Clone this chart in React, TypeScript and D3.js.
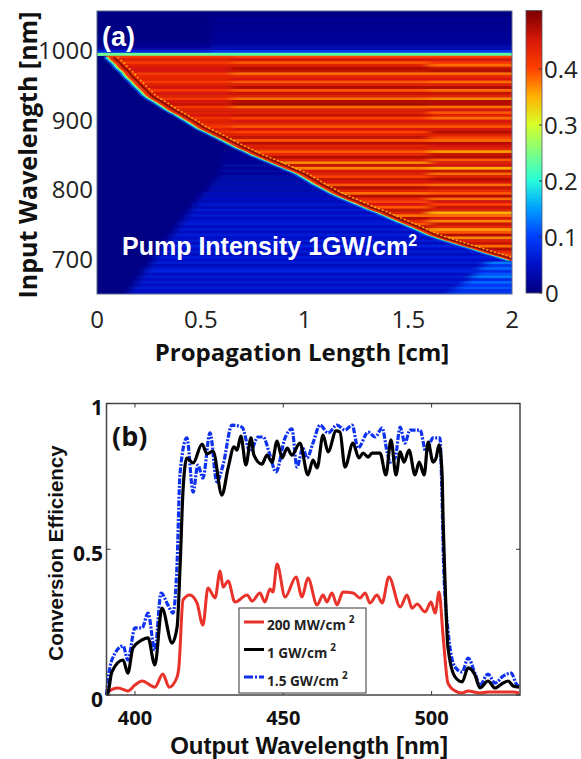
import React from "react";
import * as d3 from "d3";

// panel (a): rows of the map, 990 nm down to 650 nm in 4 nm steps
const rowWavelengths = d3.range(0, 86).map((i) => 990 - 4 * i);
// where conversion starts along the crystal, one value per row from 990 nm down
const rowStart = [
  0.05, 0.06, 0.08, 0.09, 0.1, 0.12, 0.13, 0.14, 0.155, 0.17,
  0.18, 0.195, 0.21, 0.22, 0.235, 0.255, 0.28, 0.3, 0.32, 0.34,
  0.365, 0.39, 0.41, 0.435, 0.455, 0.475, 0.5, 0.53, 0.555, 0.585,
  0.61, 0.635, 0.66, 0.69, 0.72, 0.745, 0.78, 0.81, 0.845, 0.875,
  0.905, 0.94, 0.97, 0.99, 1.015, 1.035, 1.06, 1.085, 1.11, 1.135,
  1.165, 1.195, 1.23, 1.26, 1.29, 1.325, 1.36, 1.39, 1.42, 1.45,
  1.485, 1.515, 1.545, 1.575, 1.605, 1.645, 1.69, 1.73, 1.775, 1.82,
  1.86, 1.905, 1.95, 1.99,
];
const nearLevels = [
  0.41, 0.44, 0.41, 0.44, 0.45, 0.45, 0.41, 0.43, 0.44, 0.41,
  0.44, 0.45, 0.41, 0.45, 0.44, 0.41, 0.45, 0.46, 0.41, 0.44,
  0.44, 0.45, 0.42, 0.44, 0.43, 0.41, 0.44, 0.42, 0.44, 0.45,
  0.41, 0.45, 0.44, 0.44, 0.41, 0.43, 0.45, 0.44, 0.41, 0.45,
  0.41, 0.44, 0.44, 0.42, 0.45, 0.44, 0.41, 0.45, 0.44, 0.41,
  0.45, 0.43, 0.42, 0.44, 0.41, 0.45, 0.44, 0.41, 0.45, 0.43,
  0.41, 0.45, 0.44, 0.41, 0.44, 0.45, 0.41, 0.44, 0.41, 0.44,
  0.43, 0.45, 0.42, 0.44,
];
const midLevels = [
  0.4, 0.45, 0.39, 0.44, 0.47, 0.46, 0.38, 0.43, 0.45, 0.39,
  0.44, 0.47, 0.39, 0.46, 0.44, 0.38, 0.47, 0.48, 0.38, 0.44,
  0.44, 0.46, 0.4, 0.45, 0.43, 0.39, 0.45, 0.4, 0.44, 0.46,
  0.39, 0.47, 0.44, 0.44, 0.39, 0.43, 0.47, 0.44, 0.37, 0.46,
  0.37, 0.45, 0.44, 0.4, 0.46, 0.45, 0.39, 0.47, 0.44, 0.38,
  0.47, 0.43, 0.4, 0.45, 0.39, 0.46, 0.44, 0.38, 0.47, 0.43,
  0.39, 0.46, 0.44, 0.37, 0.44, 0.47, 0.39, 0.45, 0.38, 0.44,
  0.43, 0.46, 0.4, 0.44,
];
const farLevels = [
  0.4, 0.45, 0.41, 0.38, 0.46, 0.47, 0.38, 0.43, 0.45, 0.38,
  0.44, 0.47, 0.38, 0.46, 0.44, 0.37, 0.47, 0.47, 0.38, 0.45,
  0.39, 0.44, 0.38, 0.45, 0.43, 0.39, 0.45, 0.47, 0.44, 0.4,
  0.38, 0.47, 0.45, 0.43, 0.36, 0.46, 0.47, 0.39, 0.44, 0.45,
  0.35, 0.46, 0.38, 0.44, 0.47, 0.45, 0.38, 0.46, 0.43, 0.39,
  0.47, 0.38, 0.45, 0.4, 0.46, 0.44, 0.35, 0.38, 0.45, 0.37,
  0.46, 0.43, 0.36, 0.39, 0.47, 0.37, 0.44, 0.46, 0.38, 0.47,
  0.43, 0.4, 0.44, 0.38,
];
// faint unconverted light under the curve, rows 34 to 85
const lowStart = [
  0.61, 0.61, 0.61, 0.6, 0.6, 0.6, 0.59, 0.59, 0.59, 0.58,
  0.57, 0.56, 0.55, 0.54, 0.53, 0.51, 0.5, 0.49, 0.48, 0.47,
  0.46, 0.45, 0.44, 0.43, 0.42, 0.41, 0.4, 0.39, 0.38, 0.37,
  0.36, 0.35, 0.34, 0.33, 0.32, 0.31, 0.3, 0.29, 0.28, 0.27,
  0.26, 0.25, 0.24, 0.23, 0.22, 0.21, 0.2, 0.19, 0.18, 0.17,
  0.16, 0.15,
];
const lowLevels = [
  0.01, 0.015, 0.01, 0.02, 0.015, 0.025, 0.015, 0.025, 0.02, 0.03,
  0.025, 0.035, 0.03, 0.04, 0.03, 0.045, 0.035, 0.05, 0.04, 0.055,
  0.04, 0.06, 0.045, 0.06, 0.045, 0.055, 0.065, 0.045, 0.06, 0.045,
  0.065, 0.05, 0.06, 0.045, 0.07, 0.05, 0.06, 0.045, 0.065, 0.05,
  0.06, 0.045, 0.06, 0.07, 0.045, 0.06, 0.05, 0.06, 0.045, 0.06,
  0.05, 0.055,
];
// brighter wedge in the bottom right corner, rows 74 to 85
const wedgeStart = [1.88, 1.87, 1.85, 1.84, 1.83, 1.81, 1.8, 1.78, 1.76, 1.74, 1.72, 1.7];
const wedgeLevels = [0.13, 0.09, 0.12, 0.08, 0.11, 0.13, 0.08, 0.12, 0.09, 0.11, 0.08, 0.1];
// rows above the 990 nm line
const topWavelengths = d3.range(0, 16).map((i) => 1054 - 4 * i);
const topLeft = [0.004, 0.004, 0.004, 0.004, 0.004, 0.004, 0.004, 0.004, 0.004, 0.004, 0.005, 0.008, 0.012, 0.025, 0.07, 0.24];
const topRight = [0.005, 0.005, 0.01, 0.015, 0.01, 0.015, 0.015, 0.01, 0.02, 0.015, 0.02, 0.02, 0.025, 0.04, 0.09, 0.23];

const jetStops = ["#00007f", "#0010c8", "#0040ff", "#00a0ff", "#28ffd8", "#80ff80", "#d8ff28", "#ffb000", "#ff4000", "#d81808", "#7f0000"];
const colorbarTicks = [0, 0.1, 0.2, 0.3, 0.4];
const lengthTicks = [0, 0.5, 1, 1.5, 2];
const inputTicks = [700, 800, 900, 1000];

// panel (b)
const blackX = [390.4, 390.9, 392.2, 396, 397.6, 399.3, 402.4, 404.4, 406.7, 409.1, 412.5, 414.2, 415.2, 416.2, 417.5, 419.6, 422.6, 424.3, 426.3, 429.3, 431.4, 433.4, 434.4, 435.7, 437.4, 439.1, 440.1, 442.8, 444.5, 446.2, 447.9, 449.6, 451.3, 452.9, 455.6, 458.3, 460, 461.4, 463.4, 465.1, 467.8, 469.1, 470.8, 473.5, 475.5, 476.9, 478.6, 479.9, 482.6, 484.6, 486.3, 488, 489.4, 490.7, 492.4, 494.4, 495.8, 497.5, 498.8, 500.5, 501.5, 502.5, 503.5, 503.9, 504.5, 505.5, 507.9, 510.3, 512.3, 514.6, 516.3, 519, 521.4, 524.1, 525.8, 527.5, 529.5];
const blackY = [0, 0.007, 0.079, 0.12, 0.075, 0.161, 0.189, 0.196, 0.103, 0.298, 0.178, 0.233, 0.439, 0.703, 0.813, 0.796, 0.861, 0.827, 0.837, 0.686, 0.779, 0.851, 0.84, 0.888, 0.789, 0.882, 0.823, 0.792, 0.823, 0.799, 0.871, 0.813, 0.847, 0.823, 0.864, 0.755, 0.806, 0.779, 0.892, 0.834, 0.906, 0.902, 0.782, 0.864, 0.813, 0.83, 0.816, 0.83, 0.83, 0.755, 0.875, 0.755, 0.834, 0.799, 0.84, 0.755, 0.799, 0.755, 0.868, 0.799, 0.813, 0.858, 0.765, 0.59, 0.395, 0.165, 0.062, 0.045, 0.093, 0.069, 0.024, 0.048, 0.024, 0.041, 0.048, 0.031, 0.027];
const blueX = [390.4, 390.9, 392.2, 396, 397.6, 400, 402.4, 404.4, 406.7, 408.8, 411.1, 412.8, 414.2, 415.2, 417.5, 419.6, 421.2, 422.9, 425.3, 427.6, 429.7, 432.7, 436.1, 438.8, 441.5, 443.2, 445.5, 447.5, 450.6, 452.9, 454.6, 456.6, 458, 460, 462.4, 465.1, 468.1, 470.8, 473.2, 475.2, 478.6, 481, 483.3, 485, 486, 487.7, 489.4, 491, 492.7, 496.1, 498.1, 500.5, 502.8, 503.5, 504, 505.5, 507.9, 510.3, 512.3, 514.6, 516.3, 519, 521.4, 524.1, 526.8, 528.8, 529.5];
const blueY = [0, 0.051, 0.12, 0.168, 0.12, 0.23, 0.23, 0.281, 0.154, 0.35, 0.309, 0.281, 0.453, 0.762, 0.882, 0.696, 0.789, 0.744, 0.899, 0.731, 0.789, 0.926, 0.919, 0.834, 0.885, 0.885, 0.823, 0.765, 0.882, 0.913, 0.782, 0.847, 0.813, 0.864, 0.926, 0.899, 0.926, 0.909, 0.926, 0.847, 0.902, 0.885, 0.916, 0.834, 0.799, 0.813, 0.919, 0.864, 0.909, 0.909, 0.834, 0.882, 0.882, 0.686, 0.463, 0.223, 0.096, 0.079, 0.127, 0.075, 0.034, 0.072, 0.041, 0.065, 0.075, 0.034, 0.031];
const redX = [390.4, 390.9, 394.3, 397.6, 400, 402.4, 406.7, 409.4, 411.5, 414.2, 414.8, 416.2, 418.5, 420.9, 422.9, 424.6, 427, 428.7, 429.7, 431.4, 433.7, 437.8, 439.5, 442.1, 443.8, 445.5, 446.5, 447.9, 450.6, 454.3, 456.3, 458.3, 461.4, 463.4, 464.7, 466.4, 468.1, 470.1, 473.5, 475.9, 477.6, 479.2, 481.6, 483.3, 485.6, 489.4, 491.7, 493.4, 495.1, 497.8, 499.8, 501.2, 502.5, 503.9, 505.5, 507.9, 510.3, 512.3, 516.3, 519, 524.1, 527.5, 529.5];
const redY = [0, 0.01, 0.024, 0.014, 0.034, 0.048, 0.027, 0.072, 0.027, 0.062, 0.096, 0.326, 0.343, 0.316, 0.24, 0.367, 0.333, 0.425, 0.37, 0.391, 0.319, 0.343, 0.322, 0.35, 0.319, 0.364, 0.353, 0.449, 0.336, 0.405, 0.336, 0.401, 0.309, 0.343, 0.319, 0.35, 0.309, 0.353, 0.35, 0.333, 0.35, 0.316, 0.343, 0.316, 0.405, 0.302, 0.343, 0.298, 0.312, 0.285, 0.319, 0.281, 0.353, 0.199, 0.041, 0.014, 0.007, 0.014, 0.007, 0.01, 0.01, 0.01, 0.007];
const wavelengthTicks = [400, 450, 500];
const efficiencyTicks = [0, 0.5, 1];
const legendItems = [
  { label: "200 MW/cm", color: "#e8302a", width: 3, dash: "none" },
  { label: "1 GW/cm", color: "#000000", width: 3, dash: "none" },
  { label: "1.5 GW/cm", color: "#1030f0", width: 3, dash: "9 2 2 2" },
];

const width = 581;
const height = 759;
const a = { left: 97, right: 512, top: 11, bottom: 294 };
const b = { left: 106.5, right: 520, top: 403.5, bottom: 695 };
const tickFont = "'Open Sans', sans-serif";
const arial = "'Liberation Sans', Arial, sans-serif";

const App = () => {
  const z = d3.scaleLinear().domain([0, 2]).range([a.left, a.right]);
  const wl = d3.scaleLinear().domain([650, 1000]).range([293.5, 50]);
  const color = d3
    .scaleLinear<string>()
    .domain(jetStops.map((_, i) => (i / (jetStops.length - 1)) * 0.5))
    .range(jetStops)
    .clamp(true);
  const bar = d3.scaleLinear().domain([0, 0.5]).range([293, 13]);

  const x = d3.scaleLinear().domain([390.4, 529.8]).range([b.left, b.right]);
  const y = d3.scaleLinear().domain([0, 1]).range([b.bottom, b.top]);
  const curve = d3
    .line<[number, number]>()
    .x((d) => x(d[0]))
    .y((d) => y(d[1]))
    .curve(d3.curveMonotoneX);
  const pairs = (xs: number[], ys: number[]) => xs.map((v, i) => [v, ys[i]] as [number, number]);

  // edge of the converted band, shifted along the length axis
  const edge = (shift: number) =>
    d3
      .line<number>()
      .x((d) => z(d + shift))
      .y((_, i) => wl(rowWavelengths[i]))
      .curve(d3.curveBasis)(rowStart) ?? "";

  const bandClip = `${edge(0)}L${z(2.1)},${wl(698)}L${z(2.1)},${wl(992)}L${z(0.03)},${wl(992)}Z`;

  const rowRect = (key: string, w: number, from: number, to: number, level: number) => (
    <rect
      key={key}
      x={z(from)}
      width={Math.max(0, z(to) - z(from))}
      y={wl(w + 2)}
      height={wl(w - 2) - wl(w + 2) + 0.4}
      fill={color(level)}
    />
  );

  const mapBox = { x: a.left - 30, y: a.top - 10, width: a.right - a.left + 60, height: a.bottom - a.top + 20 };

  return (
    <svg width={width} height={height} style={{ position: "absolute", left: 0, top: 0, background: "#fff" }}>
      <defs>
        <filter id="soft" filterUnits="userSpaceOnUse" {...mapBox}>
          <feGaussianBlur stdDeviation="0.5" />
        </filter>
        <filter id="rowBlur" filterUnits="userSpaceOnUse" {...mapBox}>
          <feGaussianBlur stdDeviation="5 0.4" />
        </filter>
        <filter id="softLine" x="-2%" y="-2%" width="104%" height="104%">
          <feGaussianBlur stdDeviation="0.45" />
        </filter>
        <clipPath id="mapClip">
          <rect x={a.left} y={a.top} width={a.right - a.left} height={a.bottom - a.top} />
        </clipPath>
        <clipPath id="bandClip">
          <path d={bandClip} />
        </clipPath>
      </defs>

      {/* panel (a) */}
      <g clipPath="url(#mapClip)">
        <rect x={a.left} y={a.top} width={a.right - a.left} height={a.bottom - a.top} fill={color(0.003)} />
        <g filter="url(#rowBlur)">
          {topWavelengths.map((w, i) => (
            <g key={w}>
              {rowRect(`tl${w}`, w, -0.2, 0.55, topLeft[i])}
              {rowRect(`tr${w}`, w, 0.55, 2.2, topRight[i])}
            </g>
          ))}
          {rowWavelengths.map((w, i) => {
            if (i < 34) return null;
            const end = i < 74 ? 2.2 : wedgeStart[i - 74];
            return (
              <g key={w}>
                {rowRect(`lo${w}`, w, lowStart[i - 34], end, lowLevels[i - 34])}
                {i >= 74 && rowRect(`we${w}`, w, wedgeStart[i - 74], 2.2, wedgeLevels[i - 74])}
              </g>
            );
          })}
        </g>
        <g clipPath="url(#bandClip)">
          <g filter="url(#rowBlur)">
            {rowStart.map((start, i) => {
              const w = rowWavelengths[i];
              return (
                <g key={w}>
                  {rowRect(`n${w}`, w, start - 0.2, Math.max(start, 0.65), nearLevels[i])}
                  {start < 1.6 && rowRect(`m${w}`, w, Math.max(start, 0.65), 1.6, midLevels[i])}
                  {rowRect(`f${w}`, w, Math.max(start, 1.6), 2.2, farLevels[i])}
                </g>
              );
            })}
          </g>
        </g>
        <g filter="url(#soft)">
          <path d={edge(-0.014)} fill="none" stroke="#0070ff" strokeWidth={3} opacity={0.6} />
          <path d={edge(-0.006)} fill="none" stroke="#30f0d0" strokeWidth={1.7} />
          <path d={edge(0.003)} fill="none" stroke="#f0e020" strokeWidth={1.4} />
          <path d={edge(0.014)} fill="none" stroke="#e83010" strokeWidth={2.6} />
          <path d={edge(0.03)} fill="none" stroke="#8a0a04" strokeWidth={1.8} />
          <path d={edge(0.05)} fill="none" stroke="#ffb018" strokeWidth={1.4} strokeDasharray="2 2" />
        </g>
      </g>
      <rect x={a.left} y={a.top} width={a.right - a.left} height={a.bottom - a.top} fill="none" stroke="#5a6a8a" strokeWidth={1} />
      <text x={102} y={46} fill="#fff" fontFamily={arial} fontWeight="bold" fontSize={27}>(a)</text>
      <text x={122} y={255} fill="#fff" fontFamily={arial} fontWeight="bold" fontSize={25}>
        Pump Intensity 1GW/cm<tspan dy={-9} fontSize={16}>2</tspan>
      </text>
      {inputTicks.map((t) => (
        <text key={t} x={93} y={wl(t) + 9} textAnchor="end" fontFamily={tickFont} fontSize={24} fill="#222">{t}</text>
      ))}
      {lengthTicks.map((t) => (
        <text key={t} x={z(t)} y={328} textAnchor="middle" fontFamily={tickFont} fontSize={24} fill="#222">{t}</text>
      ))}
      <text x={302} y={361} textAnchor="middle" fontFamily={tickFont} fontWeight="bold" fontSize={24} fill="#111">Propagation Length [cm]</text>
      <text transform="translate(37,155) rotate(-90)" textAnchor="middle" fontFamily={tickFont} fontWeight="bold" fontSize={25} fill="#111">Input Wavelength [nm]</text>

      {/* colorbar */}
      {d3.range(0, 141).map((i) => {
        const v = (i / 140) * 0.5;
        return <rect key={i} x={526} width={16} y={bar(v) - 2.5} height={2.6} fill={color(v)} />;
      })}
      <rect x={526} y={10.5} width={16} height={282.5} fill="none" stroke="#556" strokeWidth={0.8} />
      {colorbarTicks.map((t) => (
        <g key={t}>
          <line x1={539} x2={542} y1={bar(t)} y2={bar(t)} stroke="#333" />
          <text x={t === 0 ? 545 : 544} y={bar(t) + 9} fontFamily={tickFont} fontSize={24} fill="#222">{t}</text>
        </g>
      ))}

      {/* panel (b) */}
      <g filter="url(#softLine)" fill="none" strokeLinejoin="round">
        <path d={curve(pairs(redX, redY)) ?? ""} stroke="#e8302a" strokeWidth={3} />
        <path d={curve(pairs(blueX, blueY)) ?? ""} stroke="#1030f0" strokeWidth={3.2} strokeDasharray="6 1.5 2 1.5" />
        <path d={curve(pairs(blackX, blackY)) ?? ""} stroke="#000" strokeWidth={3.2} />
      </g>
      <rect x={b.left} y={b.top} width={b.right - b.left} height={b.bottom - b.top} fill="none" stroke="#444" strokeWidth={1.5} />
      {wavelengthTicks.map((t) => (
        <g key={t}>
          <line x1={x(t)} x2={x(t)} y1={b.bottom} y2={b.bottom - 4} stroke="#333" />
          <line x1={x(t)} x2={x(t)} y1={b.top} y2={b.top + 4} stroke="#333" />
          <text x={x(t)} y={725} textAnchor="middle" fontFamily={tickFont} fontWeight="bold" fontSize={20} fill="#111">{t}</text>
        </g>
      ))}
      {efficiencyTicks.map((t) => (
        <g key={t}>
          <line x1={b.left} x2={b.left + 4} y1={y(t)} y2={y(t)} stroke="#333" />
          <line x1={b.right} x2={b.right - 4} y1={y(t)} y2={y(t)} stroke="#333" />
          <text x={103} y={y(t) + 11.5} textAnchor="end" fontFamily={tickFont} fontWeight="bold" fontSize={21} fill="#111">{t}</text>
        </g>
      ))}
      <text x={112} y={446} fontFamily={tickFont} fontWeight="bold" fontSize={27} fill="#111">(b)</text>
      <text x={309} y={754} textAnchor="middle" fontFamily={arial} fontWeight="bold" fontSize={24} fill="#111">Output Wavelength [nm]</text>
      <text transform="translate(63,553) rotate(-90)" textAnchor="middle" fontFamily={arial} fontWeight="bold" fontSize={20.5} fill="#111">Conversion Efficiency</text>

      {/* legend */}
      <rect x={239} y={608} width={127} height={85} fill="#fff" stroke="#555" strokeWidth={1.2} />
      {legendItems.map((d, i) => (
        <g key={d.label}>
          <line x1={244} x2={264} y1={622 + i * 27.5} y2={622 + i * 27.5} stroke={d.color} strokeWidth={d.width} strokeDasharray={d.dash} />
          <text x={267} y={630 + i * 28} fontFamily={tickFont} fontWeight="bold" fontSize={13.6} fill="#222">
            {d.label}<tspan dy={-7} fontSize={10} dx={3}>2</tspan>
          </text>
        </g>
      ))}
    </svg>
  );
};

export default App;
